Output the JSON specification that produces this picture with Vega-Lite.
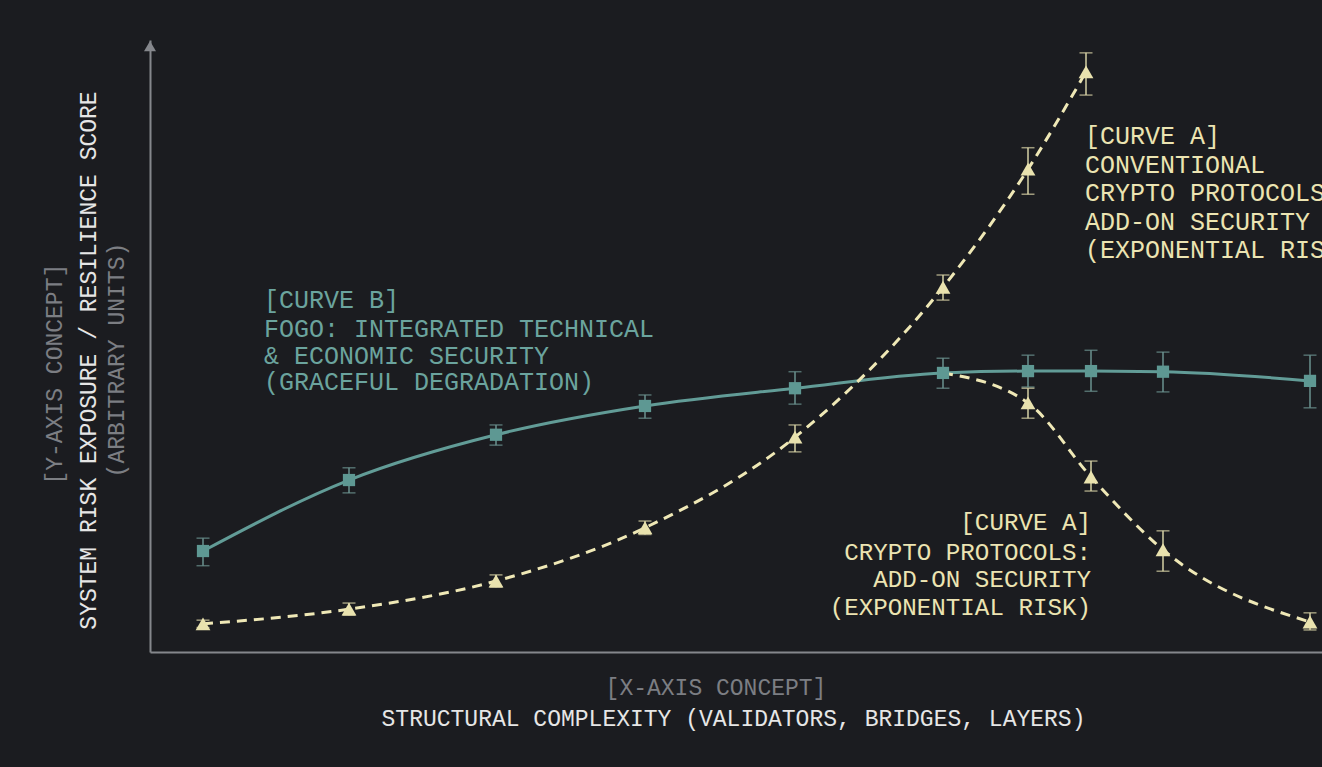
{
  "$schema": "https://vega.github.io/schema/vega-lite/v6.json",
  "width": 1172,
  "height": 612,
  "autosize": {"type": "none"},
  "padding": {"left": 150, "top": 40, "right": 0, "bottom": 115},
  "background": "#1b1c20",
  "config": {"view": {"stroke": null}, "font": "Liberation Mono"},
  "datasets": {
    "pts": [
      {"series": "B", "x": 0.53, "y": 16.5, "lo": 14.1, "hi": 18.6, "m": true},
      {"series": "B", "x": 1.99, "y": 28.1, "lo": 26.0, "hi": 30.1, "m": true},
      {"series": "B", "x": 3.46, "y": 35.5, "lo": 33.8, "hi": 37.1, "m": true},
      {"series": "B", "x": 4.95, "y": 40.2, "lo": 38.2, "hi": 42.0, "m": true},
      {"series": "B", "x": 6.45, "y": 43.1, "lo": 40.5, "hi": 45.8, "m": true},
      {"series": "B", "x": 7.93, "y": 45.6, "lo": 43.1, "hi": 48.0, "m": true},
      {"series": "B", "x": 8.78, "y": 45.9, "lo": 43.3, "hi": 48.5, "m": true},
      {"series": "B", "x": 9.41, "y": 45.9, "lo": 42.6, "hi": 49.3, "m": true},
      {"series": "B", "x": 10.13, "y": 45.8, "lo": 42.5, "hi": 49.0, "m": true},
      {"series": "B", "x": 11.6, "y": 44.3, "lo": 39.9, "hi": 48.5, "m": true},
      {"series": "A", "x": 0.53, "y": 4.6, "lo": 4.0, "hi": 5.2, "m": true},
      {"series": "A", "x": 1.99, "y": 7.0, "lo": 6.0, "hi": 8.0, "m": true},
      {"series": "A", "x": 3.46, "y": 11.6, "lo": 10.6, "hi": 12.6, "m": true},
      {"series": "A", "x": 4.95, "y": 20.3, "lo": 19.2, "hi": 21.4, "m": true},
      {"series": "A", "x": 6.45, "y": 35.1, "lo": 32.7, "hi": 37.1, "m": true},
      {"series": "A", "x": 7.93, "y": 59.6, "lo": 57.5, "hi": 61.6, "m": true},
      {"series": "A", "x": 8.78, "y": 78.9, "lo": 74.8, "hi": 82.4, "m": true},
      {"series": "A", "x": 9.36, "y": 94.8, "lo": 91.0, "hi": 97.9, "m": true},
      {"series": "A2", "x": 7.93, "y": 45.6, "lo": null, "hi": null, "m": false},
      {"series": "A2", "x": 8.78, "y": 40.7, "lo": 38.2, "hi": 43.1, "m": true},
      {"series": "A2", "x": 9.41, "y": 28.6, "lo": 26.3, "hi": 31.2, "m": true},
      {"series": "A2", "x": 10.13, "y": 16.7, "lo": 13.2, "hi": 19.8, "m": true},
      {"series": "A2", "x": 11.6, "y": 4.9, "lo": 3.6, "hi": 6.4, "m": true}
    ],
    "notesLeft": [
      {"text": "[CURVE B]", "x": 1.14, "y": 57.5, "tone": "teal"},
      {"text": "FOGO: INTEGRATED TECHNICAL", "x": 1.14, "y": 52.8, "tone": "teal"},
      {"text": "& ECONOMIC SECURITY", "x": 1.14, "y": 48.4, "tone": "teal"},
      {"text": "(GRACEFUL DEGRADATION)", "x": 1.14, "y": 44.1, "tone": "teal"},
      {"text": "[CURVE A]", "x": 9.35, "y": 84.3, "tone": "yellow"},
      {"text": "CONVENTIONAL", "x": 9.35, "y": 79.6, "tone": "yellow"},
      {"text": "CRYPTO PROTOCOLS:", "x": 9.35, "y": 75.0, "tone": "yellow"},
      {"text": "ADD-ON SECURITY", "x": 9.35, "y": 70.3, "tone": "yellow"},
      {"text": "(EXPONENTIAL RISK)", "x": 9.35, "y": 65.7, "tone": "yellow"}
    ],
    "notesRight": [
      {"text": "[CURVE A]", "x": 9.41, "y": 21.1},
      {"text": "CRYPTO PROTOCOLS:", "x": 9.41, "y": 16.2},
      {"text": "ADD-ON SECURITY", "x": 9.41, "y": 11.8},
      {"text": "(EXPONENTIAL RISK)", "x": 9.41, "y": 7.2}
    ],
    "notesX": [
      {"text": "[X-AXIS CONCEPT]", "x": 5.66, "y": -5.88}
    ],
    "notesY": [
      {"text": "[Y-AXIS CONCEPT]", "x": -0.95, "y": 45.4},
      {"text": "(ARBITRARY UNITS)", "x": -0.33, "y": 47.7}
    ],
    "arrow": [{"x": 0, "y": 99.0}]
  },
  "encoding": {
    "x": {
      "field": "x", "type": "quantitative",
      "scale": {"domain": [0, 11.72], "nice": false, "zero": false},
      "axis": {
        "title": "STRUCTURAL COMPLEXITY (VALIDATORS, BRIDGES, LAYERS)",
        "titleColor": "#e6e6e6", "titleFont": "Liberation Mono", "titleFontSize": 23, "titleFontWeight": "normal",
        "titleX": 583, "titleY": 66, "titleAlign": "center", "titleBaseline": "middle",
        "domainColor": "#85878c", "domainWidth": 2, "ticks": false, "labels": false, "grid": false
      }
    },
    "y": {
      "field": "y", "type": "quantitative",
      "scale": {"domain": [0, 100], "nice": false, "zero": false},
      "axis": {
        "title": "SYSTEM RISK EXPOSURE / RESILIENCE SCORE",
        "titleColor": "#e6e6e6", "titleFont": "Liberation Mono", "titleFontSize": 23, "titleFontWeight": "normal",
        "titleX": -62, "titleY": 320, "titleAngle": -90, "titleAlign": "center", "titleBaseline": "middle",
        "domainColor": "#85878c", "domainWidth": 2, "ticks": false, "labels": false, "grid": false
      }
    }
  },
  "layer": [
    {
      "data": {"name": "pts"},
      "transform": [{"filter": "datum.lo != null && datum.series == 'B'"}],
      "layer": [
        {"mark": {"type": "rule", "color": "#6b928f", "strokeWidth": 1.5}, "encoding": {"y": {"field": "lo", "type": "quantitative"}, "y2": {"field": "hi"}}},
        {"mark": {"type": "tick", "orient": "horizontal", "color": "#6b928f", "size": 13, "thickness": 1.5}, "encoding": {"y": {"field": "lo", "type": "quantitative"}}},
        {"mark": {"type": "tick", "orient": "horizontal", "color": "#6b928f", "size": 13, "thickness": 1.5}, "encoding": {"y": {"field": "hi", "type": "quantitative"}}}
      ]
    },
    {
      "data": {"name": "pts"},
      "transform": [{"filter": "datum.lo != null && datum.series != 'B'"}],
      "layer": [
        {"mark": {"type": "rule", "color": "#d6d0a4", "strokeWidth": 1.5}, "encoding": {"y": {"field": "lo", "type": "quantitative"}, "y2": {"field": "hi"}}},
        {"mark": {"type": "tick", "orient": "horizontal", "color": "#d6d0a4", "size": 13, "thickness": 1.5}, "encoding": {"y": {"field": "lo", "type": "quantitative"}}},
        {"mark": {"type": "tick", "orient": "horizontal", "color": "#d6d0a4", "size": 13, "thickness": 1.5}, "encoding": {"y": {"field": "hi", "type": "quantitative"}}}
      ]
    },
    {
      "data": {"name": "pts"},
      "transform": [{"filter": "datum.series == 'B'"}],
      "mark": {"type": "line", "color": "#629c97", "strokeWidth": 3, "interpolate": "monotone"},
      "encoding": {"order": {"field": "x", "type": "quantitative"}}
    },
    {
      "data": {"name": "pts"},
      "transform": [{"filter": "datum.series != 'B'"}],
      "mark": {"type": "line", "color": "#efe8b6", "strokeWidth": 3, "strokeDash": [10, 7], "interpolate": "monotone"},
      "encoding": {"detail": {"field": "series"}, "order": {"field": "x", "type": "quantitative"}}
    },
    {
      "data": {"name": "pts"},
      "transform": [{"filter": "datum.series == 'B'"}],
      "mark": {"type": "point", "shape": "square", "filled": true, "size": 150, "color": "#5e9893", "opacity": 1}
    },
    {
      "data": {"name": "pts"},
      "transform": [{"filter": "datum.series != 'B' && datum.m"}],
      "mark": {"type": "point", "shape": "triangle-up", "filled": true, "size": 220, "color": "#e9e2ae", "opacity": 1}
    },
    {
      "data": {"name": "arrow"},
      "mark": {"type": "point", "shape": "triangle-up", "filled": true, "size": 144, "color": "#85878c", "opacity": 1, "clip": false}
    },
    {
      "data": {"name": "notesLeft"},
      "mark": {"type": "text", "align": "left", "baseline": "middle", "font": "Liberation Mono", "fontSize": 25},
      "encoding": {
        "text": {"field": "text"},
        "color": {"field": "tone", "type": "nominal", "scale": {"domain": ["teal", "yellow"], "range": ["#6ba49e", "#ece4b2"]}, "legend": null}
      }
    },
    {
      "data": {"name": "notesRight"},
      "mark": {"type": "text", "align": "right", "baseline": "middle", "font": "Liberation Mono", "fontSize": 24.2, "color": "#ece4b2"},
      "encoding": {"text": {"field": "text"}}
    },
    {
      "data": {"name": "notesX"},
      "mark": {"type": "text", "align": "center", "baseline": "middle", "font": "Liberation Mono", "fontSize": 23, "color": "#7c7e83"},
      "encoding": {"text": {"field": "text"}}
    },
    {
      "data": {"name": "notesY"},
      "mark": {"type": "text", "align": "center", "baseline": "middle", "angle": -90, "font": "Liberation Mono", "fontSize": 23, "color": "#7c7e83"},
      "encoding": {"text": {"field": "text"}}
    }
  ]
}
